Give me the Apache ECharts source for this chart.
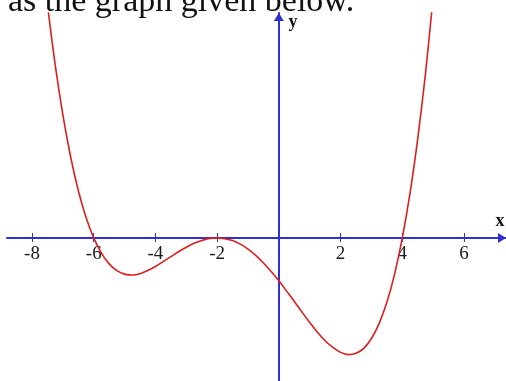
<!DOCTYPE html>
<html>
<head>
<meta charset="utf-8">
<script src="https://cdn.jsdelivr.net/npm/echarts@6/dist/echarts.min.js"></script>
<style>
  html, body { margin: 0; padding: 0; background: #fff; }
  #chart { width: 506px; height: 381px; }
</style>
</head>
<body>
<div id="chart"></div>
<script>
// Curve samples: x positions and the curve's height at each one
const xValues = [
  -7.5, -7.25, -7, -6.75, -6.5, -6.25, -6, -5.75, -5.5, -5.25,
  -5, -4.75, -4.5, -4.25, -4, -3.75, -3.5, -3.25, -3, -2.75,
  -2.5, -2.25, -2, -1.75, -1.5, -1.25, -1, -0.75, -0.5, -0.25,
  0, 0.25, 0.5, 0.75, 1, 1.25, 1.5, 1.75, 2, 2.25,
  2.5, 2.75, 3, 3.25, 3.5, 3.75, 4, 4.25, 4.5, 4.75, 5
];
const yValues = [
  52.2, 38.8, 27.5, 18.2, 10.6, 4.6, 0, -3.4, -5.8, -7.3,
  -8.1, -8.3, -8.0, -7.3, -6.4, -5.3, -4.2, -3.1, -2.1, -1.2,
  -0.6, -0.1, 0, -0.2, -0.6, -1.4, -2.5, -3.9, -5.6, -7.5,
  -9.6, -11.9, -14.2, -16.6, -18.9, -21.1, -23.0, -24.5, -25.6, -26.1,
  -25.8, -24.7, -22.5, -19.1, -14.4, -8.1, 0, 10.0, 22.2, 36.7, 53.9
];
// Labelled x-axis ticks (the origin is left unlabelled)
const xTicks = [-8, -6, -4, -2, 2, 4, 6];

const BLUE = '#2f2fd2';
const RED = '#dc1e1e';
const SERIF = '"Liberation Serif", "Times New Roman", serif';

const X_MIN = -8.81, X_MAX = 7.36;
const Y_MIN = -32.0, Y_MAX = 50.3;

const GRID_TOP = 13, GRID_BOTTOM = 0, HEIGHT = 381;
// Lift the x axis from the grid's bottom edge up to y = 0
const plotH = HEIGHT - GRID_TOP - GRID_BOTTOM;
const xAxisOffset = -plotH * (0 - Y_MIN) / (Y_MAX - Y_MIN);

const points = xValues.map((x, i) => [x, yValues[i]]);

const chart = echarts.init(document.getElementById('chart'), null, { renderer: 'canvas' });

chart.setOption({
  animation: false,
  backgroundColor: '#ffffff',
  grid: { left: 7, right: 0, top: GRID_TOP, bottom: GRID_BOTTOM, containLabel: false, outerBoundsMode: 'none' },
  xAxis: [
    {
      type: 'value', min: X_MIN, max: X_MAX, position: 'bottom', offset: xAxisOffset,
      axisLine: {
        show: true, onZero: false,
        symbol: ['none', 'triangle'], symbolSize: [10, 8], symbolOffset: [0, -4],
        lineStyle: { color: BLUE, width: 2 }
      },
      axisTick: { show: true, length: 4, customValues: xTicks, lineStyle: { color: BLUE, width: 1 } },
      axisLabel: {
        show: true, customValues: xTicks, margin: 7,
        color: '#1a1a1a', fontFamily: SERIF, fontSize: 19
      },
      splitLine: { show: false }
    },
    {
      // upper half of the tick marks, so each tick crosses the axis
      type: 'value', min: X_MIN, max: X_MAX, position: 'bottom', offset: xAxisOffset,
      axisLine: { show: false, onZero: false },
      axisTick: { show: true, inside: true, length: 5, customValues: xTicks, lineStyle: { color: BLUE, width: 1 } },
      axisLabel: { show: false },
      splitLine: { show: false }
    }
  ],
  yAxis: {
    type: 'value', min: Y_MIN, max: Y_MAX,
    axisLine: {
      show: true, onZero: true, onZeroAxisIndex: 0,
      symbol: ['none', 'triangle'], symbolSize: [10, 8], symbolOffset: [0, -4],
      lineStyle: { color: BLUE, width: 2 }
    },
    axisTick: { show: false },
    axisLabel: { show: false },
    splitLine: { show: false }
  },
  series: [{
    type: 'line',
    xAxisIndex: 0,
    yAxisIndex: 0,
    data: points,
    smooth: 0.3,
    showSymbol: false,
    clip: true,
    lineStyle: { color: RED, width: 1.6 },
    z: 3
  }],
  graphic: [
    {
      type: 'text', z: 10,
      style: { text: 'as the graph given below.', x: 8, y: 2, verticalAlign: 'middle',
               font: '34px ' + SERIF, fill: '#111' }
    },
    {
      type: 'text', z: 10,
      style: { text: 'x', x: 500, y: 221, align: 'center', verticalAlign: 'middle',
               font: 'bold 18px ' + SERIF, fill: '#111' }
    },
    {
      type: 'text', z: 10,
      style: { text: 'y', x: 293, y: 22, align: 'center', verticalAlign: 'middle',
               font: 'bold 18px ' + SERIF, fill: '#111' }
    }
  ]
});
</script>
</body>
</html>
